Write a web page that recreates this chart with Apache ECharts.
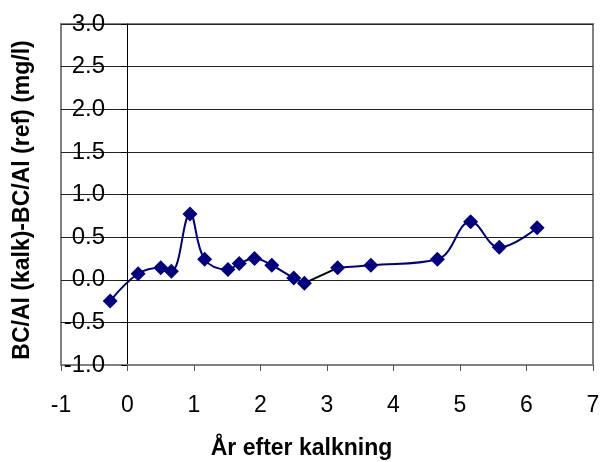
<!DOCTYPE html>
<html>
<head>
<meta charset="utf-8">
<script src="https://cdn.jsdelivr.net/npm/echarts@6/dist/echarts.min.js"></script>
<style>
  html, body { margin: 0; padding: 0; background: #fff; }
  #chart { width: 603px; height: 462px; }
</style>
</head>
<body>
<div id="chart"></div>
<script>
// Years after liming and the BC/Al difference (limed minus reference), mg/l
var years  = [-0.26, 0.16, 0.50, 0.66, 0.94, 1.16, 1.51, 1.68, 1.91, 2.17, 2.50, 2.66, 3.16, 3.66, 4.66, 5.16, 5.59, 6.16];
var values = [-0.25, 0.07, 0.14, 0.10, 0.77, 0.24, 0.12, 0.19, 0.25, 0.17, 0.02, -0.04, 0.14, 0.17, 0.24, 0.68, 0.38, 0.61];

// The stretch between these two indices is drawn as a straight black segment
var breakStart = 11;
var breakEnd = 12;

var xTicks = [-1, 0, 1, 2, 3, 4, 5, 6, 7];
var yTicks = [-1.0, -0.5, 0.0, 0.5, 1.0, 1.5, 2.0, 2.5, 3.0];

var xTitle = 'År efter kalkning';
var yTitle = 'BC/Al (kalk)-BC/Al (ref) (mg/l)';

function pairs(from, to) {
  var out = [];
  for (var i = from; i <= to; i++) out.push([years[i], values[i]]);
  return out;
}

var navy = '#000080';
var tickFont = '"Liberation Sans", Arial, sans-serif';
var chart = echarts.init(document.getElementById('chart'), null, { renderer: 'canvas' });

var markerStyle = {
  symbol: 'diamond',
  symbolSize: 15,
  itemStyle: { color: navy, borderWidth: 0 }
};

var yRange = { type: 'value', min: yTicks[0], max: yTicks[yTicks.length - 1], interval: 0.5 };

chart.setOption({
  animation: false,
  backgroundColor: '#fff',
  grid: {
    left: 61, right: 10, top: 24, bottom: 97,
    show: true,
    borderColor: '#808080',
    borderWidth: 2,
    backgroundColor: 'transparent'
  },
  xAxis: {
    type: 'value',
    min: xTicks[0],
    max: xTicks[xTicks.length - 1],
    interval: 1,
    axisLine: { onZero: false, lineStyle: { color: '#808080', width: 2 } },
    axisTick: { show: true, length: 6, lineStyle: { color: '#555', width: 1 } },
    axisLabel: {
      margin: 29,
      color: '#000',
      fontFamily: tickFont,
      fontSize: 23,
      formatter: function (v) { return String(v); }
    },
    splitLine: { show: false }
  },
  yAxis: [
    // value axis crossing at x = 0: line, ticks and gridlines
    Object.assign({
      position: 'left',
      axisLine: { show: true, onZero: true, lineStyle: { color: '#000', width: 1 } },
      axisTick: { show: true, length: 6, lineStyle: { color: '#000', width: 1 } },
      axisLabel: { show: false },
      splitLine: { show: true, lineStyle: { color: '#222', width: 1 } }
    }, yRange),
    // tick labels, set just left of the crossing axis
    Object.assign({
      position: 'left',
      axisLine: { show: false, onZero: false },
      axisTick: { show: false },
      splitLine: { show: false },
      axisLabel: {
        margin: -44,
        color: '#000',
        fontFamily: tickFont,
        fontSize: 24,
        formatter: function (v) { return v.toFixed(1); }
      }
    }, yRange)
  ],
  graphic: [
    {
      type: 'text',
      left: 'center',
      x: 0,
      top: 437,
      style: {
        text: xTitle,
        font: 'bold 23px "Liberation Sans", Arial, sans-serif',
        fill: '#000'
      }
    },
    {
      type: 'text',
      x: 11,
      y: 200,
      rotation: Math.PI / 2,
      style: {
        text: yTitle,
        font: 'bold 23px "Liberation Sans", Arial, sans-serif',
        fill: '#000',
        align: 'center',
        verticalAlign: 'top'
      }
    }
  ],
  series: [
    Object.assign({
      type: 'line',
      data: pairs(0, breakStart),
      smooth: 0.4,
      lineStyle: { color: navy, width: 2 },
      z: 3
    }, markerStyle),
    {
      type: 'line',
      data: pairs(breakStart, breakEnd),
      symbol: 'none',
      lineStyle: { color: '#000', width: 2 },
      z: 2
    },
    Object.assign({
      type: 'line',
      data: pairs(breakEnd, years.length - 1),
      smooth: 0.4,
      lineStyle: { color: navy, width: 2 },
      z: 3
    }, markerStyle)
  ]
});
</script>
</body>
</html>
